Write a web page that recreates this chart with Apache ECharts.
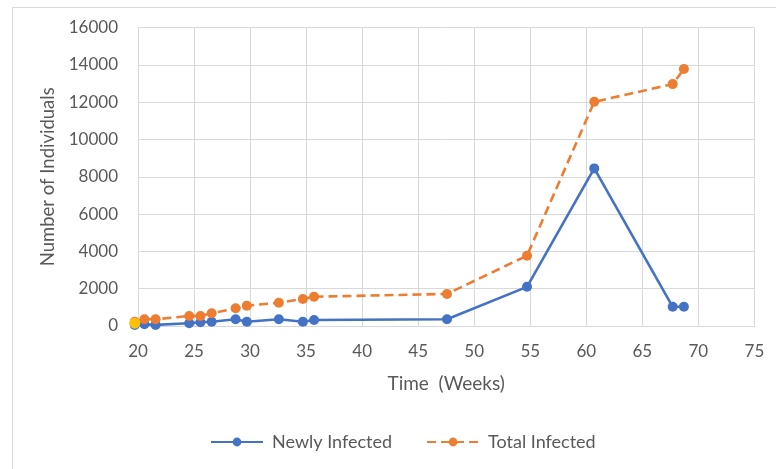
<!DOCTYPE html>
<html>
<head>
<meta charset="utf-8">
<script src="https://cdn.jsdelivr.net/npm/echarts@6/dist/echarts.min.js"></script>
<style>
  html, body { margin: 0; padding: 0; background: #fff; }
  #chart { width: 776px; height: 469px; }
</style>
</head>
<body>
<div id="chart"></div>
<script>
// Time in weeks and counts of individuals
const newlyWeeks = [19.71, 20.57, 21.57, 24.57, 25.57, 26.57, 28.71, 29.71, 32.57, 34.71, 35.71, 47.57, 54.71, 60.71, 67.71, 68.71];
const newlyCounts = [50, 90, 60, 145, 200, 230, 360, 230, 360, 230, 320, 360, 2100, 8450, 1030, 1030];

const totalWeeks = [19.71, 20.57, 21.57, 24.57, 25.57, 26.57, 28.71, 29.71, 32.57, 34.71, 35.71, 47.57, 54.71, 60.71, 67.71, 68.71];
const totalCounts = [230, 360, 360, 540, 540, 680, 950, 1090, 1250, 1450, 1570, 1720, 3770, 12020, 12970, 13780];

const startWeek = [19.71];
const startCount = [150];

const xTicks = { min: 20, max: 75, interval: 5 };
const yTicks = { min: 0, max: 16000, interval: 2000 };

const pair = (xs, ys) => xs.map((x, i) => [x, ys[i]]);

const FONT = 'Lato';
const TEXT = '#595959';
const GRID = '#d9d9d9';

const chart = echarts.init(document.getElementById('chart'), null, { renderer: 'canvas' });

chart.setOption({
  backgroundColor: '#ffffff',
  animation: false,
  textStyle: { fontFamily: FONT, color: TEXT },
  graphic: [{
    type: 'rect',
    shape: { x: 12.5, y: 7.5, width: 800, height: 500 },
    style: { fill: 'none', stroke: '#d9d9d9', lineWidth: 1 },
    silent: true,
    z: -1
  }],
  grid: { left: 138, right: 21.6, top: 27.6, bottom: 143, containLabel: false },
  xAxis: {
    type: 'value',
    min: xTicks.min, max: xTicks.max, interval: xTicks.interval,
    name: 'Time  (Weeks)',
    nameLocation: 'middle',
    nameGap: 48,
    nameTextStyle: { fontFamily: FONT, fontSize: 19, color: TEXT },
    axisLine: { show: true, lineStyle: { color: GRID, width: 1 } },
    axisTick: { show: false },
    axisLabel: { fontFamily: FONT, fontSize: 17, color: TEXT, margin: 17 },
    splitLine: { show: true, lineStyle: { color: GRID, width: 1 } }
  },
  yAxis: {
    type: 'value',
    min: yTicks.min, max: yTicks.max, interval: yTicks.interval,
    name: 'Number of Individuals',
    nameLocation: 'middle',
    nameGap: 71,
    nameTextStyle: { fontFamily: FONT, fontSize: 18.5, color: TEXT },
    axisLine: { show: true, lineStyle: { color: GRID, width: 1 } },
    axisTick: { show: false },
    axisLabel: { fontFamily: FONT, fontSize: 17, color: TEXT, margin: 20, formatter: v => String(v) },
    splitLine: { show: true, lineStyle: { color: GRID, width: 1 } }
  },
  legend: {
    bottom: 13,
    left: 205,
    itemWidth: 52,
    itemHeight: 11,
    itemGap: 34,
    textStyle: { fontFamily: FONT, fontSize: 18, color: TEXT, padding: [0, 0, 0, 4] },
    data: ['Newly Infected', 'Total Infected']
  },
  series: [
    {
      name: 'Newly Infected',
      type: 'line',
      clip: false,
      data: pair(newlyWeeks, newlyCounts),
      symbol: 'circle',
      symbolSize: 10,
      itemStyle: { color: '#4472C4' },
      lineStyle: { color: '#4472C4', width: 2.6 },
      z: 2
    },
    {
      name: 'Total Infected',
      type: 'line',
      clip: false,
      data: pair(totalWeeks, totalCounts),
      symbol: 'circle',
      symbolSize: 10,
      itemStyle: { color: '#ED7D31' },
      lineStyle: { color: '#ED7D31', width: 2.6, type: [9, 5] },
      z: 3
    },
    {
      name: 'Start',
      type: 'line',
      clip: false,
      data: pair(startWeek, startCount),
      symbol: 'circle',
      symbolSize: 11,
      itemStyle: { color: '#FFC000' },
      lineStyle: { width: 0 },
      z: 4
    }
  ]
});
</script>
</body>
</html>
